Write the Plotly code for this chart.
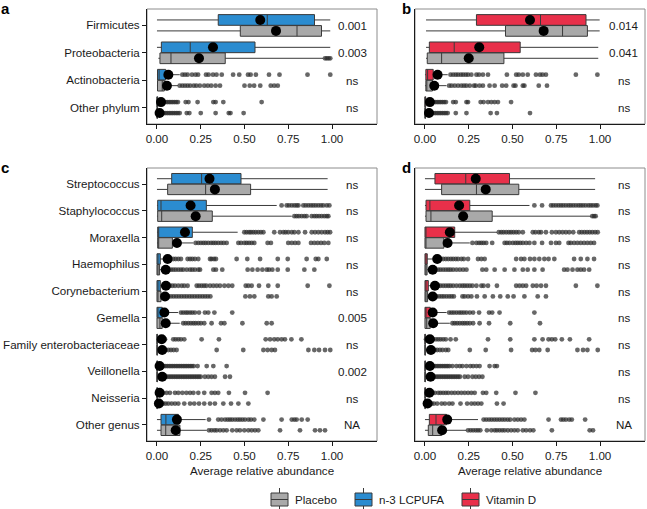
import plotly.graph_objects as go

W, H = 647, 509

PHYLA = ["Firmicutes", "Proteobacteria", "Actinobacteria", "Other phylum"]
GENERA = ["Streptococcus", "Staphylococcus", "Moraxella", "Haemophilus", "Corynebacterium",
          "Gemella", "Family enterobacteriaceae", "Veillonella", "Neisseria", "Other genus"]

GROUPS = ["Placebo", "n-3 LCPUFA", "Vitamin D"]
GROUP_COLORS = ["#a9a9a9", "#2b8cd0", "#e8304a"]

# box rows: [lower whisker, q1, median, q3, upper whisker]
# ---- panel a: n-3 LCPUFA vs placebo, phyla
A_TRT_BOX = [[0.0, 0.35, 0.63, 0.90, 0.99], [0.0, 0.025, 0.19, 0.56, 0.99],
             [0.0, 0.003, 0.012, 0.05, 0.13], [0.0, 0.0, 0.0, 0.004, 0.01]]
A_TRT_MEAN = [0.59, 0.32, 0.065, 0.023]
A_PLA_BOX = [[0.0, 0.476, 0.80, 0.94, 0.99], [0.008, 0.017, 0.08, 0.39, 0.95],
             [0.0, 0.003, 0.03, 0.042, 0.12], [0.0, 0.0, 0.0, 0.003, 0.01]]
A_PLA_MEAN = [0.68, 0.24, 0.057, 0.015]
A_TRT_OUT = [[], [],
             [0.145, 0.16, 0.175, 0.2, 0.22, 0.235, 0.28, 0.295, 0.32, 0.34, 0.37, 0.435, 0.47, 0.52,
              0.535, 0.565, 0.64, 0.70, 0.86, 0.99],
             [0.03, 0.04, 0.05, 0.06, 0.07, 0.08, 0.09, 0.10, 0.11, 0.12, 0.164, 0.18, 0.232, 0.322,
              0.335, 0.379, 0.598]]
A_PLA_OUT = [[], [0.96, 0.97, 0.98, 0.99],
             [0.13, 0.145, 0.16, 0.175, 0.19, 0.21, 0.225, 0.245, 0.27, 0.29, 0.31, 0.335, 0.36, 0.50,
              0.53, 0.555, 0.59, 0.65, 0.67, 0.69],
             [0.02, 0.03, 0.04, 0.05, 0.06, 0.07, 0.08, 0.09, 0.10, 0.11, 0.12, 0.13, 0.17, 0.185, 0.25,
              0.335, 0.41, 0.42, 0.495]]
A_PVAL = ["0.001", "0.003", "ns", "ns"]

# ---- panel b: vitamin D vs placebo, phyla
B_TRT_BOX = [[0.006, 0.294, 0.66, 0.92, 0.998], [0.006, 0.025, 0.167, 0.544, 0.99],
             [0.0, 0.005, 0.015, 0.047, 0.13], [0.0, 0.0, 0.0, 0.004, 0.01]]
B_TRT_MEAN = [0.60, 0.31, 0.072, 0.028]
B_PLA_BOX = [[0.006, 0.46, 0.786, 0.928, 0.998], [0.006, 0.013, 0.095, 0.451, 0.99],
             [0.0, 0.005, 0.01, 0.043, 0.123], [0.0, 0.0, 0.0, 0.003, 0.01]]
B_PLA_MEAN = [0.678, 0.25, 0.053, 0.023]
B_TRT_OUT = [[], [],
             [0.146, 0.161, 0.176, 0.189, 0.205, 0.218, 0.233, 0.246, 0.265, 0.294, 0.309, 0.331, 0.36,
              0.468, 0.521, 0.536, 0.559, 0.587, 0.634, 0.657, 0.672, 0.691, 0.862, 0.985],
             [0.02, 0.03, 0.04, 0.05, 0.06, 0.07, 0.08, 0.09, 0.10, 0.11, 0.12, 0.161, 0.176, 0.237,
              0.246, 0.318, 0.335, 0.36, 0.379, 0.398, 0.417, 0.492]]
B_PLA_OUT = [[], [],
             [0.138, 0.152, 0.17, 0.189, 0.208, 0.223, 0.237, 0.256, 0.28, 0.29, 0.312, 0.331, 0.369,
              0.398, 0.441, 0.464, 0.506, 0.517, 0.559, 0.568, 0.65, 0.697],
             [0.02, 0.03, 0.04, 0.05, 0.06, 0.07, 0.08, 0.09, 0.10, 0.11, 0.12, 0.13, 0.176, 0.237,
              0.375, 0.411, 0.60]]
B_PVAL = ["0.014", "0.041", "ns", "ns"]

# ---- panel c: n-3 LCPUFA vs placebo, genera
C_TRT_BOX = [[0.0, 0.084, 0.255, 0.48, 0.975], [0.0, 0.004, 0.023, 0.282, 0.684],
             [0.0, 0.004, 0.008, 0.202, 0.461], [0.0, 0.0, 0.005, 0.019, 0.08],
             [0.0, 0.0, 0.004, 0.019, 0.06], [0.0, 0.0, 0.005, 0.03, 0.12],
             [0.0, 0.0, 0.0, 0.002, 0.005], [0.0, 0.0, 0.0, 0.002, 0.005],
             [0.0, 0.0, 0.0, 0.002, 0.005], [0.0, 0.023, 0.051, 0.122, 0.278]]
C_TRT_MEAN = [0.30, 0.192, 0.16, 0.061, 0.051, 0.042, 0.027, 0.015, 0.015, 0.114]
C_PLA_BOX = [[0.0, 0.061, 0.278, 0.535, 0.975], [0.0, 0.004, 0.027, 0.316, 0.77],
             [0.0, 0.004, 0.008, 0.088, 0.208], [0.0, 0.0, 0.003, 0.015, 0.07],
             [0.0, 0.0, 0.005, 0.023, 0.06], [0.0, 0.0, 0.017, 0.03, 0.13],
             [0.0, 0.0, 0.0, 0.002, 0.005], [0.0, 0.0, 0.0, 0.002, 0.005],
             [0.0, 0.0, 0.0, 0.002, 0.005], [0.0, 0.023, 0.05, 0.131, 0.284]]
C_PLA_MEAN = [0.331, 0.221, 0.114, 0.05, 0.046, 0.05, 0.03, 0.03, 0.011, 0.107]
C_TRT_OUT = [
    [],
    [0.712, 0.741, 0.754, 0.77, 0.785, 0.798, 0.808, 0.836, 0.85, 0.865, 0.88, 0.893, 0.907, 0.922,
     0.937, 0.95, 0.97, 0.985],
    [0.499, 0.512, 0.526, 0.537, 0.55, 0.564, 0.579, 0.594, 0.608, 0.67, 0.703, 0.722, 0.735, 0.75,
     0.77, 0.785, 0.808, 0.846, 0.884, 0.903, 0.922, 0.941, 0.96, 0.975, 0.989],
    [0.093, 0.107, 0.122, 0.137, 0.175, 0.189, 0.202, 0.217, 0.236, 0.303, 0.312, 0.326, 0.337,
     0.455, 0.516, 0.589, 0.69, 0.747, 0.855, 0.907, 0.922, 0.97],
    [0.074, 0.088, 0.103, 0.122, 0.141, 0.156, 0.175, 0.227, 0.24, 0.255, 0.269, 0.282, 0.303, 0.322,
     0.341, 0.36, 0.385, 0.408, 0.43, 0.507, 0.522, 0.541, 0.583, 0.636, 0.69, 0.861, 0.985],
    [0.137, 0.15, 0.164, 0.175, 0.189, 0.202, 0.217, 0.24, 0.274, 0.293, 0.328, 0.43],
    [0.017, 0.046, 0.093, 0.107, 0.122, 0.137, 0.156, 0.255, 0.354, 0.621, 0.646, 0.67, 0.69, 0.712,
     0.731, 0.768, 0.825],
    [0.04, 0.05, 0.06, 0.07, 0.08, 0.09, 0.10, 0.11, 0.12, 0.13, 0.14, 0.15, 0.16, 0.17, 0.18, 0.19,
     0.20, 0.21, 0.232, 0.284, 0.322, 0.398],
    [0.036, 0.055, 0.074, 0.103, 0.122, 0.145, 0.168, 0.189, 0.208, 0.236, 0.27, 0.312, 0.331, 0.35,
     0.411, 0.503, 0.632],
    [0.297, 0.35, 0.369, 0.389, 0.404, 0.417, 0.43, 0.446, 0.461, 0.474, 0.488, 0.503, 0.522, 0.537,
     0.556, 0.608, 0.712, 0.77, 0.785, 0.798, 0.827, 0.861],
]
C_PLA_OUT = [
    [],
    [0.785, 0.798, 0.811, 0.827, 0.842, 0.855, 0.884, 0.899, 0.912, 0.926, 0.941, 0.956, 0.97, 0.979],
    [0.221, 0.236, 0.251, 0.265, 0.278, 0.293, 0.309, 0.322, 0.335, 0.35, 0.366, 0.381, 0.398, 0.465,
     0.48, 0.499, 0.512, 0.526, 0.541, 0.556, 0.632, 0.651, 0.75, 0.77, 0.789, 0.808, 0.88, 0.899,
     0.918, 0.937, 0.956, 0.979],
    [0.08, 0.093, 0.107, 0.122, 0.137, 0.15, 0.17, 0.189, 0.202, 0.217, 0.236, 0.246, 0.322, 0.337,
     0.373, 0.518, 0.545, 0.575, 0.602, 0.627, 0.64, 0.659, 0.69, 0.747, 0.842, 0.899],
    [0.065, 0.08, 0.095, 0.11, 0.125, 0.14, 0.155, 0.17, 0.185, 0.2, 0.215, 0.23, 0.245, 0.26, 0.275,
     0.29, 0.305, 0.505, 0.531, 0.556, 0.636, 0.655, 0.684],
    [0.15, 0.164, 0.179, 0.194, 0.208, 0.221, 0.236, 0.251, 0.27, 0.312, 0.366, 0.385, 0.488, 0.627,
     0.655],
    [0.05, 0.065, 0.08, 0.095, 0.112, 0.341, 0.493, 0.608, 0.632, 0.655, 0.674, 0.865, 0.899, 0.926,
     0.96, 0.99],
    [0.04, 0.05, 0.06, 0.07, 0.08, 0.09, 0.10, 0.11, 0.12, 0.13, 0.14, 0.15, 0.16, 0.17, 0.18, 0.19,
     0.20, 0.21, 0.22, 0.23, 0.24, 0.25, 0.274, 0.293, 0.312, 0.331, 0.389, 0.417],
    [0.036, 0.05, 0.065, 0.084, 0.103, 0.122, 0.156, 0.189, 0.213, 0.24, 0.27, 0.303, 0.331, 0.379,
     0.423, 0.465, 0.522],
    [0.297, 0.312, 0.328, 0.341, 0.36, 0.379, 0.398, 0.43, 0.455, 0.474, 0.499, 0.522, 0.541, 0.56,
     0.579, 0.703, 0.817, 0.903, 0.931, 0.96],
]
C_PVAL = ["ns", "ns", "ns", "ns", "ns", "0.005", "ns", "0.002", "ns", "NA"]

# ---- panel d: vitamin D vs placebo, genera
D_TRT_BOX = [[0.0, 0.057, 0.233, 0.483, 0.972], [0.0, 0.006, 0.028, 0.256, 0.597],
             [0.0, 0.0, 0.004, 0.17, 0.411], [0.0, 0.0, 0.004, 0.013, 0.07],
             [0.0, 0.0, 0.005, 0.019, 0.06], [0.0, 0.0, 0.005, 0.03, 0.123],
             [0.0, 0.0, 0.0, 0.002, 0.005], [0.0, 0.0, 0.0, 0.002, 0.005],
             [0.0, 0.0, 0.0, 0.002, 0.005], [0.0, 0.025, 0.063, 0.123, 0.303]]
D_TRT_MEAN = [0.29, 0.195, 0.142, 0.07, 0.057, 0.044, 0.028, 0.028, 0.025, 0.127]
D_PLA_BOX = [[0.0, 0.095, 0.294, 0.536, 0.972], [0.0, 0.006, 0.034, 0.384, 0.947],
             [0.0, 0.0, 0.004, 0.108, 0.256], [0.0, 0.0, 0.003, 0.012, 0.07],
             [0.0, 0.0, 0.004, 0.015, 0.06], [0.0, 0.0, 0.01, 0.03, 0.142],
             [0.0, 0.0, 0.0, 0.002, 0.005], [0.0, 0.0, 0.0, 0.002, 0.005],
             [0.0, 0.0, 0.0, 0.002, 0.005], [0.0, 0.019, 0.044, 0.095, 0.237]]
D_PLA_MEAN = [0.347, 0.218, 0.129, 0.044, 0.044, 0.047, 0.034, 0.032, 0.015, 0.098]
D_TRT_OUT = [
    [],
    [0.625, 0.669, 0.72, 0.733, 0.748, 0.763, 0.777, 0.79, 0.805, 0.82, 0.833, 0.847, 0.862, 0.877,
     0.89, 0.903, 0.918, 0.934, 0.947, 0.96, 0.975, 0.985],
    [0.422, 0.436, 0.449, 0.464, 0.479, 0.492, 0.506, 0.521, 0.536, 0.559, 0.616, 0.631, 0.65, 0.663,
     0.691, 0.725, 0.748, 0.767, 0.786, 0.805, 0.824, 0.847, 0.881, 0.896, 0.911, 0.926, 0.941,
     0.956, 0.972, 0.987],
    [0.089, 0.104, 0.119, 0.133, 0.148, 0.161, 0.176, 0.189, 0.208, 0.222, 0.246, 0.303, 0.322, 0.341,
     0.521, 0.549, 0.568, 0.6, 0.625, 0.653, 0.682, 0.706, 0.739, 0.852, 0.89, 0.928, 0.966],
    [0.076, 0.089, 0.104, 0.119, 0.133, 0.146, 0.161, 0.18, 0.199, 0.214, 0.227, 0.241, 0.256, 0.271,
     0.294, 0.322, 0.335, 0.36, 0.411, 0.521, 0.54, 0.559, 0.578, 0.616, 0.638, 0.663, 0.691, 0.862,
     0.985],
    [0.138, 0.152, 0.165, 0.18, 0.195, 0.208, 0.222, 0.237, 0.256, 0.275, 0.309, 0.366, 0.384, 0.426,
     0.625],
    [0.006, 0.019, 0.047, 0.063, 0.076, 0.089, 0.104, 0.119, 0.146, 0.176, 0.36, 0.487, 0.625, 0.672,
     0.706, 0.725, 0.744, 0.782, 0.828, 0.938],
    [0.03, 0.04, 0.05, 0.06, 0.07, 0.08, 0.09, 0.10, 0.11, 0.12, 0.13, 0.14, 0.157, 0.18, 0.199,
     0.214, 0.237, 0.259, 0.275, 0.294, 0.312, 0.369, 0.398, 0.411],
    [0.044, 0.057, 0.076, 0.089, 0.104, 0.119, 0.133, 0.152, 0.17, 0.189, 0.208, 0.227, 0.246, 0.265,
     0.284, 0.331, 0.35, 0.407, 0.517, 0.631],
    [0.335, 0.35, 0.366, 0.381, 0.396, 0.411, 0.426, 0.441, 0.456, 0.472, 0.487, 0.511, 0.53, 0.549,
     0.568, 0.706, 0.777, 0.79, 0.805, 0.824, 0.839, 0.915],
]
D_PLA_OUT = [
    [],
    [0.956, 0.966, 0.975],
    [0.271, 0.294, 0.309, 0.322, 0.335, 0.35, 0.384, 0.455, 0.468, 0.483, 0.502, 0.517, 0.53, 0.544,
     0.559, 0.578, 0.597, 0.625, 0.669, 0.72, 0.748, 0.767, 0.82, 0.833, 0.852, 0.871, 0.89, 0.909,
     0.928, 0.947, 0.966],
    [0.076, 0.089, 0.104, 0.119, 0.133, 0.146, 0.161, 0.18, 0.199, 0.218, 0.237, 0.328, 0.35, 0.398,
     0.455, 0.511, 0.559, 0.587, 0.625, 0.672, 0.795, 0.814, 0.843, 0.871, 0.89, 0.909, 0.938],
    [0.066, 0.081, 0.095, 0.108, 0.123, 0.138, 0.152, 0.165, 0.214, 0.227, 0.246, 0.265, 0.297, 0.341,
     0.388, 0.43, 0.473, 0.506, 0.568, 0.644, 0.691],
    [0.157, 0.17, 0.184, 0.199, 0.214, 0.227, 0.241, 0.256, 0.275, 0.312, 0.366, 0.487, 0.657],
    [0.057, 0.07, 0.085, 0.1, 0.119, 0.133, 0.256, 0.347, 0.492, 0.612, 0.631, 0.653, 0.701, 0.871,
     0.903, 0.928, 0.987],
    [0.03, 0.04, 0.05, 0.06, 0.07, 0.08, 0.09, 0.10, 0.11, 0.12, 0.13, 0.14, 0.15, 0.16, 0.17, 0.18,
     0.19, 0.20, 0.227, 0.246, 0.271, 0.29, 0.309, 0.328],
    [0.038, 0.051, 0.07, 0.095, 0.114, 0.138, 0.157, 0.203, 0.241, 0.265, 0.284, 0.303, 0.322, 0.411,
     0.449],
    [0.246, 0.261, 0.275, 0.29, 0.303, 0.316, 0.354, 0.379, 0.398, 0.411, 0.426, 0.441, 0.455, 0.473,
     0.492, 0.511, 0.53, 0.559, 0.578, 0.6, 0.619, 0.725, 0.941, 0.96],
]
D_PVAL = ["ns"] * 9 + ["NA"]

XTICKS = [0, 0.25, 0.5, 0.75, 1.0]
XTICK_TEXT = ["0.00", "0.25", "0.50", "0.75", "1.00"]

FONT = "Liberation Sans, Arial, Helvetica, sans-serif"
EDGE = "#3a3a3a"
OFF = 0.2
BOXW = 0.39


def px_x(p):
    return p / W


def px_y(p):
    return 1 - p / H


fig = go.Figure()

panels = [
    # letter, cats, trt box, trt mean, trt out, pla box, pla mean, pla out, pvals, trt colour,
    # x domain (px), y domain (px), show y labels, p text x
    ("a", PHYLA, A_TRT_BOX, A_TRT_MEAN, A_TRT_OUT, A_PLA_BOX, A_PLA_MEAN, A_PLA_OUT, A_PVAL,
     GROUP_COLORS[1], (147, 377), (9, 124), True, 1.115),
    ("b", PHYLA, B_TRT_BOX, B_TRT_MEAN, B_TRT_OUT, B_PLA_BOX, B_PLA_MEAN, B_PLA_OUT, B_PVAL,
     GROUP_COLORS[2], (415, 645), (9, 124), False, 1.135),
    ("c", GENERA, C_TRT_BOX, C_TRT_MEAN, C_TRT_OUT, C_PLA_BOX, C_PLA_MEAN, C_PLA_OUT, C_PVAL,
     GROUP_COLORS[1], (147, 377), (168, 441), True, 1.115),
    ("d", GENERA, D_TRT_BOX, D_TRT_MEAN, D_TRT_OUT, D_PLA_BOX, D_PLA_MEAN, D_PLA_OUT, D_PVAL,
     GROUP_COLORS[2], (415, 645), (168, 441), False, 1.135),
]

annotations = []
shapes = []
layout_axes = {}

for k, (letter, cats, tbox, tmean, tout, pbox, pmean, pout, pvals, tcol,
        xdom, ydom, ylabels, ptx) in enumerate(panels, start=1):
    xa = "x" if k == 1 else f"x{k}"
    ya = "y" if k == 1 else f"y{k}"
    n = len(cats)
    pos = list(range(1, n + 1))

    for boxes, means, outs, col, shift in [(tbox, tmean, tout, tcol, -OFF),
                                           (pbox, pmean, pout, GROUP_COLORS[0], OFF)]:
        ys = [p + shift for p in pos]
        fig.add_trace(go.Box(
            orientation="h", y=ys,
            lowerfence=[b[0] for b in boxes], q1=[b[1] for b in boxes],
            median=[b[2] for b in boxes], q3=[b[3] for b in boxes],
            upperfence=[b[4] for b in boxes],
            width=BOXW, fillcolor=col, line=dict(color=EDGE, width=1),
            whiskerwidth=0, boxpoints=False, showlegend=False, hoverinfo="skip",
            xaxis=xa, yaxis=ya))
        ox, oy = [], []
        for yv, vals in zip(ys, outs):
            ox += vals
            oy += [yv] * len(vals)
        fig.add_trace(go.Scatter(
            x=ox, y=oy, mode="markers",
            marker=dict(color="rgba(45,45,45,0.72)", size=4.8, line=dict(width=0)),
            showlegend=False, hoverinfo="skip", xaxis=xa, yaxis=ya))
        fig.add_trace(go.Scatter(
            x=means, y=ys, mode="markers",
            marker=dict(color="black", size=10, line=dict(width=0)),
            showlegend=False, hoverinfo="skip", xaxis=xa, yaxis=ya))

    for p, txt in zip(pos, pvals):
        annotations.append(dict(x=ptx, y=p, xref=xa, yref=ya, text=txt, showarrow=False,
                                font=dict(family=FONT, size=11.6, color="#1a1a1a")))

    xkey = "xaxis" if k == 1 else f"xaxis{k}"
    ykey = "yaxis" if k == 1 else f"yaxis{k}"
    xaxis = dict(domain=[px_x(xdom[0]), px_x(xdom[1])], anchor=ya, range=[-0.057, 1.257],
                 tickvals=XTICKS, ticktext=XTICK_TEXT, ticks="outside", ticklen=4,
                 tickcolor="#1a1a1a", showline=True, linecolor="#1a1a1a", linewidth=1,
                 showgrid=False, zeroline=False,
                 tickfont=dict(family=FONT, size=11.6, color="#1a1a1a"))
    if n > 4:
        xaxis["title"] = dict(text="Average relative abundance", standoff=5,
                              font=dict(family=FONT, size=11.6, color="#1a1a1a"))
    yaxis = dict(domain=[px_y(ydom[1]), px_y(ydom[0])], anchor=xa, range=[n + 0.6, 0.4],
                 tickvals=pos, ticktext=cats, showline=True, linecolor="#1a1a1a", linewidth=1,
                 showgrid=False, zeroline=False,
                 tickfont=dict(family=FONT, size=11.6, color="#1a1a1a"))
    if ylabels:
        yaxis.update(ticks="outside", ticklen=4, tickcolor="#1a1a1a")
    else:
        yaxis.update(ticks="", showticklabels=False)
    layout_axes[xkey] = xaxis
    layout_axes[ykey] = yaxis

    shapes.append(dict(type="rect", xref=f"{xa} domain", yref=f"{ya} domain", x0=0, x1=1,
                       y0=0, y1=1, line=dict(color="#8c8c8c", width=1), layer="below"))
    annotations.append(dict(x=px_x(xdom[0] - 142 if xdom[0] < 300 else xdom[0] - 9),
                            y=px_y(ydom[0] - 1), xref="paper", yref="paper",
                            text=f"<b>{letter}</b>", showarrow=False, xanchor="center",
                            yanchor="middle",
                            font=dict(family=FONT, size=15, color="black")))

# legend drawn by hand, ggplot style keys
LEG_Y0, LEG_Y1 = 493, 506
for label, col, x0 in zip(GROUPS, GROUP_COLORS, [271, 355, 462]):
    x1 = x0 + 17
    xm = (x0 + x1) / 2
    shapes.append(dict(type="line", xref="paper", yref="paper", x0=px_x(xm), x1=px_x(xm),
                       y0=px_y(LEG_Y0 - 5), y1=px_y(LEG_Y1 + 5),
                       line=dict(color=EDGE, width=1)))
    shapes.append(dict(type="rect", xref="paper", yref="paper", x0=px_x(x0), x1=px_x(x1),
                       y0=px_y(LEG_Y1), y1=px_y(LEG_Y0), fillcolor=col,
                       line=dict(color=EDGE, width=1)))
    shapes.append(dict(type="line", xref="paper", yref="paper", x0=px_x(x0), x1=px_x(x1),
                       y0=px_y((LEG_Y0 + LEG_Y1) / 2), y1=px_y((LEG_Y0 + LEG_Y1) / 2),
                       line=dict(color=EDGE, width=1)))
    annotations.append(dict(x=px_x(x1 + 5), y=px_y((LEG_Y0 + LEG_Y1) / 2), xref="paper",
                            yref="paper", text=label, showarrow=False, xanchor="left",
                            yanchor="middle",
                            font=dict(family=FONT, size=11.6, color="#1a1a1a")))

fig.update_layout(
    width=W, height=H, margin=dict(l=0, r=0, t=0, b=0),
    paper_bgcolor="white", plot_bgcolor="white",
    showlegend=False, annotations=annotations, shapes=shapes,
    **layout_axes,
)

# the page's default body margin would push the figure 8px off the window
fig.write_html("out.html", config={"displayModeBar": False},
               post_script="document.body.style.margin='0';")
